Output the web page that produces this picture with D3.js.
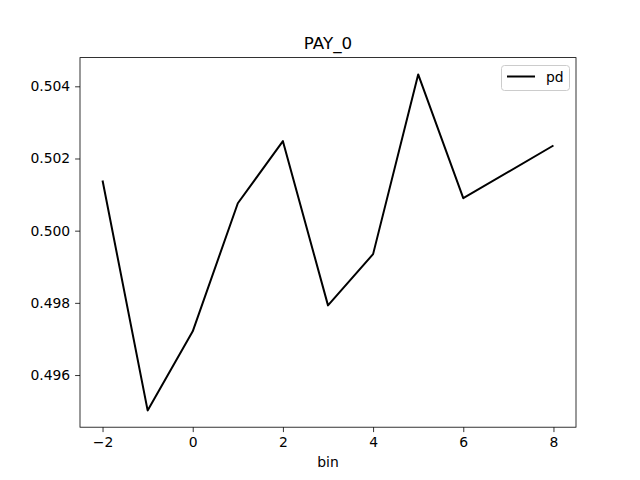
<!DOCTYPE html>
<html>
<head>
<meta charset="utf-8">
<script src="https://d3js.org/d3.v7.min.js"></script>
<style>
  body { margin: 0; background: #fff; }
  text { font-family: "DejaVu Sans", sans-serif; }
</style>
</head>
<body>
<script>
var bins = [-2, -1, 0, 1, 2, 3, 4, 5, 6, 8];
var pd = [0.50139, 0.49502, 0.49721, 0.50076, 0.50248, 0.49793, 0.49935, 0.50433, 0.50090, 0.50236];
var xTicks = [-2, 0, 2, 4, 6, 8];
var yTicks = [0.496, 0.498, 0.500, 0.502, 0.504];

var w = 640, h = 480;
var mLeft = 80, mRight = 576, mTop = 57.6, mBottom = 427.2;

var svg = d3.select("body").append("svg")
    .attr("width", w)
    .attr("height", h);

// 5% margins like matplotlib
var xmin = d3.min(bins), xmax = d3.max(bins), xr = xmax - xmin;
var ymin = d3.min(pd), ymax = d3.max(pd), yr = ymax - ymin;

var x = d3.scaleLinear()
    .domain([xmin - 0.05 * xr, xmax + 0.05 * xr])
    .range([mLeft, mRight]);
var y = d3.scaleLinear()
    .domain([ymin - 0.05 * yr, ymax + 0.05 * yr])
    .range([mBottom, mTop]);

var xAxis = svg.append("g")
    .attr("transform", "translate(0," + mBottom + ")")
    .call(d3.axisBottom(x).tickValues(xTicks).tickFormat(d3.format("d")).tickSize(4.9).tickPadding(4.9));
var yAxis = svg.append("g")
    .attr("transform", "translate(" + mLeft + ",0)")
    .call(d3.axisLeft(y).tickValues(yTicks).tickFormat(d3.format(".3f")).tickSize(4.9).tickPadding(4.9));

[xAxis, yAxis].forEach(function(g) {
    g.select(".domain").remove();
    g.selectAll("line").attr("stroke", "#000").attr("stroke-width", 0.8);
    g.selectAll("text").attr("font-size", 13.9).attr("fill", "#000")
        .attr("font-family", "DejaVu Sans, sans-serif");
});

var line = d3.line()
    .x(function(d, i) { return x(bins[i]); })
    .y(function(d) { return y(d); });

svg.append("path")
    .datum(pd)
    .attr("d", line)
    .attr("fill", "none")
    .attr("stroke", "#000")
    .attr("stroke-width", 2)
    .attr("stroke-linejoin", "round");

// frame
svg.append("rect")
    .attr("x", mLeft).attr("y", mTop)
    .attr("width", mRight - mLeft).attr("height", mBottom - mTop)
    .attr("fill", "none").attr("stroke", "#000").attr("stroke-width", 0.8);

svg.append("text")
    .attr("x", (mLeft + mRight) / 2).attr("y", 49)
    .attr("text-anchor", "middle")
    .attr("font-size", 16.7)
    .text("PAY_0");

svg.append("text")
    .attr("x", (mLeft + mRight) / 2).attr("y", 467)
    .attr("text-anchor", "middle")
    .attr("font-size", 13.9)
    .text("bin");

// legend
var lg = svg.append("g");
lg.append("rect")
    .attr("x", 501.5).attr("y", 65.5)
    .attr("width", 68).attr("height", 25)
    .attr("rx", 3)
    .attr("fill", "#fff").attr("stroke", "#ccc").attr("stroke-width", 1);
lg.append("line")
    .attr("x1", 507).attr("x2", 535)
    .attr("y1", 76.5).attr("y2", 76.5)
    .attr("stroke", "#000").attr("stroke-width", 2);
lg.append("text")
    .attr("x", 546).attr("y", 81.5)
    .attr("font-size", 13.9)
    .text("pd");
</script>
</body>
</html>
